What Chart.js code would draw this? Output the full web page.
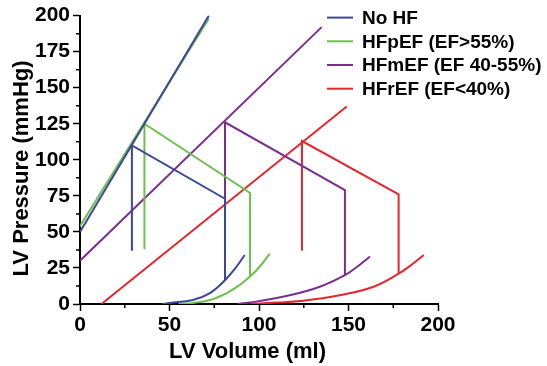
<!DOCTYPE html>
<html>
<head>
<meta charset="utf-8">
<script src="https://cdn.jsdelivr.net/npm/chart.js@4.4.1/dist/chart.umd.min.js"></script>
<style>
html,body{margin:0;padding:0;background:#fff;}
#wrap{width:547px;height:366px;position:relative;}
</style>
</head>
<body>
<div id="wrap"><canvas id="c" width="547" height="366"></canvas></div>
<script>
// ---- data (LV volume ml, LV pressure mmHg) ----
const seriesNames = ['No HF', 'HFpEF (EF>55%)', 'HFmEF (EF 40-55%)', 'HFrEF (EF<40%)'];
const seriesColors = ['#3a479b', '#6cc04a', '#7b2e8e', '#e3272d'];
const xTitle = 'LV Volume (ml)';
const yTitle = 'LV Pressure (mmHg)';

// End-systolic pressure-volume relation lines
const espvrNoHF = [[0, 50], [72, 200]];
const espvrHFpEF = [[0, 54], [72, 198]];
const espvrHFmEF = [[0, 30], [135, 192]];
const espvrHFrEF = [[12, 0], [149, 137]];

// Loop segments (isovolumic relaxation, ejection, isovolumic contraction)
const loopNoHF = [[29, 37], [29, 110], [81, 73], [81, 16]];
const loopHFpEF = [[36, 38], [36, 125], [95, 77], [95, 19]];
const loopHFmEF = [[81, 37], [81, 126], [148, 79], [148, 20]];
const loopHFrEF = [[124, 37], [124, 113], [178, 76], [178, 21]];

// End-diastolic pressure-volume relation curves
const edpvrNoHF = [[46, 0], [50, 0.7], [63, 2.8], [72.6, 7.6], [81, 16.5], [87.5, 26], [92, 34]];
const edpvrHFpEF = [[55, 0], [63, 0.7], [72.6, 2.8], [82, 7.6], [89, 13], [95, 19], [100.5, 26], [106, 35]];
const edpvrHFmEF = [[88, 0], [100, 2], [117, 6], [134, 12], [148, 20], [155, 26], [162, 33]];
const edpvrHFrEF = [[95, 0], [110, 1], [123, 2], [145, 6], [164, 12], [178, 21], [185, 27], [192, 34]];

const xTicks = [0, 50, 100, 150, 200];
const yTicks = [0, 25, 50, 75, 100, 125, 150, 175, 200];
const xMinorTicks = [25, 75, 125, 175];
const yMinorTicks = [12.5, 37.5, 62.5, 87.5, 112.5, 137.5, 162.5, 187.5];

const groups = [
  [espvrNoHF, loopNoHF, edpvrNoHF],
  [espvrHFpEF, loopHFpEF, edpvrHFpEF],
  [espvrHFmEF, loopHFmEF, edpvrHFmEF],
  [espvrHFrEF, loopHFrEF, edpvrHFrEF]
];

const datasets = [];
groups.forEach((g, i) => {
  g.forEach((pts, j) => {
    datasets.push({
      label: seriesNames[i] + '_' + j,
      data: pts.map(p => ({x: p[0], y: p[1]})),
      showLine: true,
      borderColor: seriesColors[i],
      backgroundColor: seriesColors[i],
      borderWidth: 2,
      pointRadius: 0,
      tension: j === 2 ? 0.4 : 0,
      fill: false
    });
  });
});

const FONT = '"Liberation Sans", Arial, Helvetica, sans-serif';

const minorTicksPlugin = {
  id: 'minorTicks',
  afterDraw(chart) {
    const ctx = chart.ctx;
    const xs = chart.scales.x, ys = chart.scales.y;
    ctx.save();
    ctx.strokeStyle = '#000';
    ctx.lineWidth = 1.5;
    ctx.beginPath();
    xMinorTicks.forEach(v => {
      const px = xs.getPixelForValue(v);
      ctx.moveTo(px, xs.top); ctx.lineTo(px, xs.top + 4);
    });
    yMinorTicks.forEach(v => {
      const py = ys.getPixelForValue(v);
      ctx.moveTo(ys.right, py); ctx.lineTo(ys.right - 4, py);
    });
    ctx.stroke();
    ctx.restore();
  }
};

const titlesPlugin = {
  id: 'axisTitles',
  afterDraw(chart) {
    const ctx = chart.ctx;
    const ca = chart.chartArea;
    ctx.save();
    ctx.fillStyle = '#000';
    ctx.font = 'bold 22px ' + FONT;
    ctx.textAlign = 'center';
    ctx.textBaseline = 'middle';
    ctx.fillText(xTitle, ca.left + (ca.right - ca.left) * 0.468, 352);
    ctx.translate(22, ca.top + (ca.bottom - ca.top) * 0.53);
    ctx.rotate(-Math.PI / 2);
    ctx.fillText(yTitle, 0, 0);
    ctx.restore();
  }
};

const legendPlugin = {
  id: 'customLegend',
  afterDraw(chart) {
    const ctx = chart.ctx;
    const ca = chart.chartArea;
    const x0 = ca.right - 111;
    const y0 = ca.top + 2;
    const rowH = 23.7;
    ctx.save();
    ctx.font = 'bold 19px ' + FONT;
    ctx.textBaseline = 'middle';
    ctx.textAlign = 'left';
    seriesNames.forEach((name, i) => {
      const y = y0 + i * rowH;
      ctx.strokeStyle = seriesColors[i];
      ctx.lineWidth = 2;
      ctx.beginPath();
      ctx.moveTo(x0, y); ctx.lineTo(x0 + 26, y);
      ctx.stroke();
      ctx.fillStyle = '#000';
      ctx.fillText(name, x0 + 35, y + 1);
    });
    ctx.restore();
  }
};

new Chart(document.getElementById('c'), {
  type: 'scatter',
  data: { datasets },
  options: {
    responsive: false,
    animation: false,
    events: [],
    layout: { padding: { left: 0, right: 109, top: 15, bottom: 0 } },
    plugins: { legend: { display: false }, tooltip: { enabled: false } },
    scales: {
      x: {
        type: 'linear', min: 0, max: 200,
        afterBuildTicks: s => { s.ticks = xTicks.map(v => ({value: v})); },
        afterFit: s => { s.height = 62; },
        ticks: { color: '#000', font: { family: FONT, size: 21, weight: 'bold' }, padding: 2, maxRotation: 0 },
        grid: { drawOnChartArea: false, drawTicks: true, tickLength: 7, tickColor: '#000', tickWidth: 1.5 },
        border: { display: true, color: '#000', width: 2 },
        title: { display: false }
      },
      y: {
        type: 'linear', min: 0, max: 200,
        afterBuildTicks: s => { s.ticks = yTicks.map(v => ({value: v})); },
        afterFit: s => { s.width = 80; },
        ticks: { color: '#000', font: { family: FONT, size: 21, weight: 'bold' }, padding: 3 },
        grid: { drawOnChartArea: false, drawTicks: true, tickLength: 7, tickColor: '#000', tickWidth: 1.5 },
        border: { display: true, color: '#000', width: 2 },
        title: { display: false }
      }
    }
  },
  plugins: [minorTicksPlugin, titlesPlugin, legendPlugin]
});
</script>
</body>
</html>
